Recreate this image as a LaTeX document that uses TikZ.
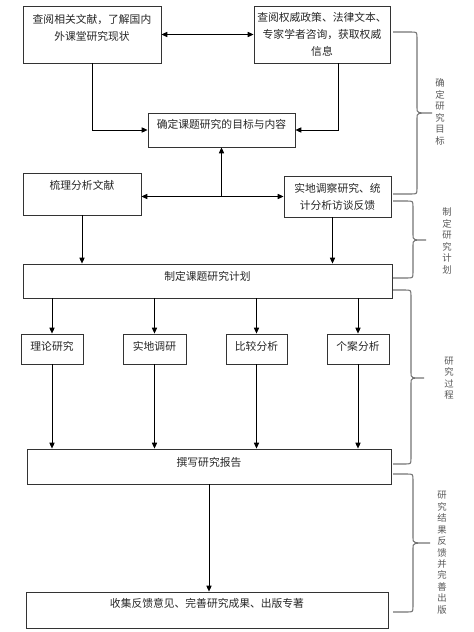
\documentclass[tikz,border=0pt]{standalone}
\usepackage{fontspec}
\newfontfamily\cjk{Noto Sans CJK SC}
\usetikzlibrary{arrows.meta}
\newcommand{\pxl}{0.03cm}
\newcommand{\lift}[1]{\rule[-#1]{0pt}{#1}}
\tikzset{
  flowbox/.style 2 args={draw=black!80, line width=0.8pt, align=center, inner sep=2pt,
    font=\cjk\fontsize{9.2}{14.5}\selectfont, text=black!85,
    minimum width=#1*\pxl, minimum height=#2*\pxl},
  flowarrow/.style={-{Triangle[length=5pt,width=4.5pt]}, line width=0.6pt},
  twoway/.style={{Triangle[length=5pt,width=4.5pt]}-{Triangle[length=5pt,width=4.5pt]}, line width=0.6pt},
  braceline/.style={draw=black!55, line width=0.9pt},
  bracelabel/.style={align=center, inner sep=0pt, text=black!65,
    font=\cjk\fontsize{8}{9.8}\selectfont},
}
% side brace: top y, bottom y, tip y, spine x, tip x
\newcommand{\sidebrace}[5]{%
  \draw[braceline] (393,#1) -- (#4-6,#1) .. controls (#4,#1) .. (#4,#1+6)
    -- (#4,#3-5) .. controls (#4,#3) .. (#5,#3) .. controls (#4,#3) .. (#4,#3+5)
    -- (#4,#2-6) .. controls (#4,#2) .. (#4-6,#2) -- (393,#2);}

\begin{document}
\begin{tikzpicture}[x=\pxl, y=-\pxl]
  \useasboundingbox (0,0) rectangle (474,632);

  % top: sources
  \node[flowbox={138}{57}] (lit) at (92,34.5) {查阅相关文献，了解国内\\外课堂研究现状\lift{12pt}};
  \node[flowbox={136}{57}] (policy) at (322,34.5) {查阅权威政策、法律文本、\\专家学者咨询，获取权威\\信息};
  \node[flowbox={147}{34}] (goal) at (221.5,130) {确定课题研究的目标与内容\lift{11pt}};
  \node[flowbox={118}{42}] (sort) at (82,194) {梳理分析文献\lift{16pt}};
  \node[flowbox={107}{41}] (field) at (337.5,196.5) {实地调察研究、统\\计分析访谈反馈};

  \draw[twoway] (lit) -- (policy);
  \draw[flowarrow] (lit.south) |- (goal.west);
  \draw[flowarrow] ([xshift=0.5cm]policy.south) |- (goal.east);
  \coordinate (mid) at (goal.south |- field.west);
  \draw[twoway] (field.west -| sort.east) -- (field.west);
  \draw[flowarrow] (mid) -- (goal.south);

  % plan
  \node[flowbox={369}{34}] (plan) at (207.5,281) {制定课题研究计划\lift{9.5pt}};
  \draw[flowarrow] (sort.south) -- (sort.south |- plan.north);
  \draw[flowarrow] ([xshift=-0.15cm]field.south) -- ([xshift=-0.15cm]field.south |- plan.north);

  % methods
  \node[flowbox={62}{30}] (theory) at (52,349) {理论研究\lift{4.5pt}};
  \node[flowbox={63}{30}] (survey) at (154.5,349) {实地调研\lift{4.5pt}};
  \node[flowbox={61}{30}] (compare) at (256.5,349) {比较分析\lift{4.5pt}};
  \node[flowbox={62}{30}] (cases) at (358,349) {个案分析\lift{4.5pt}};

  \node[flowbox={364}{35}] (report) at (209,466.5) {撰写研究报告\lift{7pt}};
  \foreach \m in {theory,survey,compare,cases} {
    \draw[flowarrow] (\m.north |- plan.south) -- (\m.north);
    \draw[flowarrow] (\m.south) -- (\m.south |- report.north);
  }

  \node[flowbox={362}{36}] (publish) at (207,610) {收集反馈意见、完善研究成果、出版专著\lift{12pt}};
  \draw[flowarrow] (report.south) -- (report.south |- publish.north);

  % braces on the right
  \sidebrace{32}{194}{113}{417}{432}
  \sidebrace{201}{278}{240}{413}{426}
  \sidebrace{290}{464}{378}{411}{424}
  \sidebrace{474}{612}{543}{413}{430}
  \node[bracelabel] (b1) at (440,112) {确\\定\\研\\究\\目\\标};
  \node[bracelabel] (b2) at (447,241) {制\\定\\研\\究\\计\\划};
  \node[bracelabel] (b3) at (449,378) {研\\究\\过\\程};
  \node[bracelabel, anchor=north] (b4) at (442,491) {研\\究\\结\\果\\反\\馈\\并\\完\\善\\出\\版};
\end{tikzpicture}
\end{document}
